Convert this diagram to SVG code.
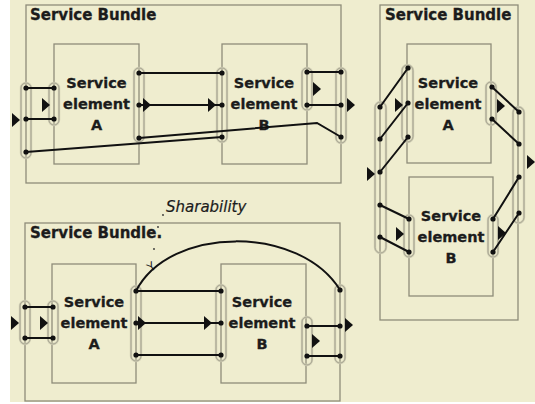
<svg xmlns="http://www.w3.org/2000/svg" width="535" height="404" viewBox="0 0 535 404">
<style>
.bg{fill:#EFEDCF}
.box{fill:none;stroke:#8E8C7A;stroke-width:1.3}
.cap{fill:none;stroke:#D2D0B6;stroke-width:2.4}
.capi{fill:none;stroke:#9A9886;stroke-width:0.8}
.wire{fill:none;stroke:#111;stroke-width:2}
.dot{fill:#111}
.tri{fill:#111}
.title{font-family:"DejaVu Sans",Verdana,sans-serif;font-weight:bold;font-size:15px;fill:#1c1c1c;stroke:#1c1c1c;stroke-width:0.3}
.lbl{font-family:"DejaVu Sans",Verdana,sans-serif;font-weight:bold;font-size:14.5px;fill:#1c1c1c;stroke:#1c1c1c;stroke-width:0.3;text-anchor:middle}
.note{font-family:"DejaVu Sans",Verdana,sans-serif;font-style:italic;font-size:15px;fill:#1c1c1c;stroke:#1c1c1c;stroke-width:0.2}
.sp{fill:#333}
</style>
<defs>
<path id="tri" d="M0,-7 L8,0 L0,7Z"/>
<circle id="d" r="2.6"/>
</defs>
<rect width="535" height="404" fill="#fff"/>
<rect class="bg" x="10" y="0" width="525" height="402"/>

<!-- Top-left bundle -->
<g id="bundle1">
<rect class="box" x="26" y="5" width="315" height="178"/>
<text class="title" x="30" y="20">Service Bundle</text>
</g>
<g id="b1-elemA">
<rect class="box" x="54" y="44" width="85" height="120"/>
<text class="lbl" x="96.5" y="88">Service</text>
<text class="lbl" x="96.5" y="109">element</text>
<text class="lbl" x="96.5" y="130">A</text>
</g>
<g id="b1-elemB">
<rect class="box" x="222" y="44" width="85" height="120"/>
<text class="lbl" x="264" y="88">Service</text>
<text class="lbl" x="264" y="109">element</text>
<text class="lbl" x="264" y="130">B</text>
</g>
<g id="b1-in"><rect class="cap" x="21" y="83" width="10" height="75" rx="5"/><rect class="capi" x="21" y="83" width="10" height="75" rx="5"/></g>
<g id="b1-Ain"><rect class="cap" x="49" y="83" width="10" height="42" rx="5"/><rect class="capi" x="49" y="83" width="10" height="42" rx="5"/></g>
<g id="b1-Aout"><rect class="cap" x="134" y="68" width="10" height="74" rx="5"/><rect class="capi" x="134" y="68" width="10" height="74" rx="5"/></g>
<g id="b1-Bin"><rect class="cap" x="217" y="68" width="10" height="74" rx="5"/><rect class="capi" x="217" y="68" width="10" height="74" rx="5"/></g>
<g id="b1-Bout"><rect class="cap" x="302" y="68" width="10" height="42" rx="5"/><rect class="capi" x="302" y="68" width="10" height="42" rx="5"/></g>
<g id="b1-out"><rect class="cap" x="336" y="68" width="10" height="75" rx="5"/><rect class="capi" x="336" y="68" width="10" height="75" rx="5"/></g>

<!-- Right bundle -->
<g id="bundle2">
<rect class="box" x="380" y="5" width="138" height="315"/>
<text class="title" x="385" y="20">Service Bundle</text>
</g>
<g id="b2-elemA">
<rect class="box" x="407" y="44" width="84" height="119"/>
<text class="lbl" x="448" y="88">Service</text>
<text class="lbl" x="448" y="109">element</text>
<text class="lbl" x="448" y="130">A</text>
</g>
<g id="b2-elemB">
<rect class="box" x="409" y="177" width="84" height="119"/>
<text class="lbl" x="451" y="221">Service</text>
<text class="lbl" x="451" y="242">element</text>
<text class="lbl" x="451" y="263">B</text>
</g>
<g id="b2-in"><rect class="cap" x="375" y="102" width="11" height="151" rx="5.5"/><rect class="capi" x="375" y="102" width="11" height="151" rx="5.5"/></g>
<g id="b2-Ain"><rect class="cap" x="402" y="65" width="11" height="77" rx="5.5"/><rect class="capi" x="402" y="65" width="11" height="77" rx="5.5"/></g>
<g id="b2-Aout"><rect class="cap" x="486" y="82" width="10" height="43" rx="5"/><rect class="capi" x="486" y="82" width="10" height="43" rx="5"/></g>
<g id="b2-Bin"><rect class="cap" x="404" y="215" width="10" height="42" rx="5"/><rect class="capi" x="404" y="215" width="10" height="42" rx="5"/></g>
<g id="b2-Bout"><rect class="cap" x="488" y="215" width="10" height="42" rx="5"/><rect class="capi" x="488" y="215" width="10" height="42" rx="5"/></g>
<g id="b2-out"><rect class="cap" x="513" y="107" width="11" height="116" rx="5.5"/><rect class="capi" x="513" y="107" width="11" height="116" rx="5.5"/></g>

<!-- Bottom bundle -->
<g id="bundle3">
<rect class="box" x="25" y="223" width="315" height="178"/>
<text class="title" x="30" y="238">Service Bundle.</text>
</g>
<g id="b3-elemA">
<rect class="box" x="52" y="264" width="84" height="119"/>
<text class="lbl" x="94" y="307">Service</text>
<text class="lbl" x="94" y="328">element</text>
<text class="lbl" x="94" y="349">A</text>
</g>
<g id="b3-elemB">
<rect class="box" x="221" y="264" width="85" height="119"/>
<text class="lbl" x="262" y="307">Service</text>
<text class="lbl" x="262" y="328">element</text>
<text class="lbl" x="262" y="349">B</text>
</g>
<g id="b3-in"><rect class="cap" x="20" y="301" width="10" height="43" rx="5"/><rect class="capi" x="20" y="301" width="10" height="43" rx="5"/></g>
<g id="b3-Ain"><rect class="cap" x="48" y="301" width="10" height="43" rx="5"/><rect class="capi" x="48" y="301" width="10" height="43" rx="5"/></g>
<g id="b3-Aout"><rect class="cap" x="131" y="286" width="10" height="75" rx="5"/><rect class="capi" x="131" y="286" width="10" height="75" rx="5"/></g>
<g id="b3-Bin"><rect class="cap" x="216" y="285" width="10" height="76" rx="5"/><rect class="capi" x="216" y="285" width="10" height="76" rx="5"/></g>
<g id="b3-Bout"><rect class="cap" x="302" y="317" width="10" height="48" rx="5"/><rect class="capi" x="302" y="317" width="10" height="48" rx="5"/></g>
<g id="b3-out"><rect class="cap" x="335" y="285" width="10" height="78" rx="5"/><rect class="capi" x="335" y="285" width="10" height="78" rx="5"/></g>
<g id="sharability">
<text class="note" x="166" y="212">Sharability</text>
<circle class="sp" cx="163" cy="215" r="0.9"/>
<circle class="sp" cx="158" cy="227" r="0.9"/>
<circle class="sp" cx="154" cy="249" r="0.9"/>
<text x="151" y="271" transform="rotate(-35 151 266)" style="font-family:'DejaVu Sans',sans-serif;font-size:12px;fill:#222;text-anchor:middle">Y</text>
</g>

<!-- Connectors -->
<g id="connectors">
<path class="wire" d="M26,88H54M26,119H54M139,73H222M139,105H222M307,72H341M307,105H341M26,152L222,137M139,138L317,123L341,137"/>
<path class="wire" d="M380,107L408,68M380,139L408,103M380,172L408,137M380,205L409,219M380,237L409,252M492,87L519,112M492,119L519,144M493,219L519,177M493,252L519,213"/>
<path class="wire" d="M25,307H53M25,338H53M136,291H221M136,323H221M136,355H221M307,326H340M307,356H340"/>
<path class="wire" d="M136,291C170,225 300,225 340,290"/>
<g class="dot">
<use href="#d" x="26" y="88"/><use href="#d" x="26" y="119"/><use href="#d" x="26" y="152"/>
<use href="#d" x="54" y="88"/><use href="#d" x="54" y="119"/>
<use href="#d" x="139" y="73"/><use href="#d" x="139" y="105"/><use href="#d" x="139" y="138"/>
<use href="#d" x="222" y="73"/><use href="#d" x="222" y="105"/><use href="#d" x="222" y="137"/>
<use href="#d" x="307" y="72"/><use href="#d" x="307" y="105"/>
<use href="#d" x="341" y="72"/><use href="#d" x="341" y="105"/><use href="#d" x="341" y="137"/>

<use href="#d" x="380" y="107"/><use href="#d" x="380" y="139"/><use href="#d" x="380" y="172"/><use href="#d" x="380" y="205"/><use href="#d" x="380" y="237"/>
<use href="#d" x="408" y="68"/><use href="#d" x="408" y="103"/><use href="#d" x="408" y="137"/>
<use href="#d" x="409" y="219"/><use href="#d" x="409" y="252"/>
<use href="#d" x="492" y="87"/><use href="#d" x="492" y="119"/>
<use href="#d" x="493" y="219"/><use href="#d" x="493" y="252"/>
<use href="#d" x="519" y="112"/><use href="#d" x="519" y="144"/><use href="#d" x="519" y="177"/><use href="#d" x="519" y="213"/>

<use href="#d" x="25" y="307"/><use href="#d" x="25" y="338"/>
<use href="#d" x="53" y="307"/><use href="#d" x="53" y="338"/>
<use href="#d" x="136" y="291"/><use href="#d" x="136" y="323"/><use href="#d" x="136" y="355"/>
<use href="#d" x="221" y="291"/><use href="#d" x="221" y="323"/><use href="#d" x="221" y="355"/>
<use href="#d" x="307" y="326"/><use href="#d" x="307" y="356"/>
<use href="#d" x="340" y="290"/><use href="#d" x="340" y="326"/><use href="#d" x="340" y="356"/>
</g>
<g class="tri">
<use href="#tri" x="12" y="120"/><use href="#tri" x="42" y="105"/>
<use href="#tri" x="143" y="105"/><use href="#tri" x="208" y="105"/>
<use href="#tri" x="313" y="89"/><use href="#tri" x="347" y="105"/>

<use href="#tri" x="367" y="174"/><use href="#tri" x="395" y="105"/>
<use href="#tri" x="497" y="106"/><use href="#tri" x="527" y="162"/>
<use href="#tri" x="396" y="234"/><use href="#tri" x="498" y="233"/>

<use href="#tri" x="11" y="323"/><use href="#tri" x="40" y="323"/>
<use href="#tri" x="138" y="323"/><use href="#tri" x="204" y="323"/>
<use href="#tri" x="312" y="341"/><use href="#tri" x="345" y="325"/>
</g>
</g>
</svg>
